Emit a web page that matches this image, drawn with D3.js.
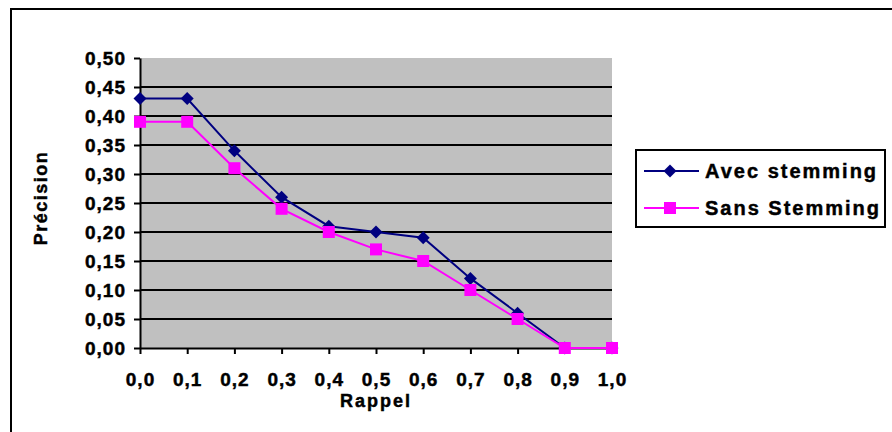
<!DOCTYPE html>
<html lang="fr">
  <head>
    <meta charset="utf-8">
    <title>Précision / Rappel</title>
    <style>
      body {
        margin: 0;
        background: #fff;
      }
      svg {
        display: block;
        font-family: "Liberation Sans", Arial, sans-serif;
        font-weight: bold;
      }
      svg text {
        stroke: #000;
        stroke-width: 0.45px;
      }
      .tick text {
        font-size: 19px;
        letter-spacing: 1px;
        fill: #000;
      }
      .domain, .tick line {
        stroke: #000;
        stroke-width: 2px;
      }
    </style>
  </head>
  <body>
    <script src="https://cdn.jsdelivr.net/npm/d3@7"></script>
    <script>
      // data
      const rappel = [0, 0.1, 0.2, 0.3, 0.4, 0.5, 0.6, 0.7, 0.8, 0.9, 1.0]
      const avecStemming = [0.43, 0.43, 0.34, 0.26, 0.21, 0.20, 0.19, 0.12, 0.06, 0.00, 0.00]
      const sansStemming = [0.39, 0.39, 0.31, 0.24, 0.20, 0.17, 0.15, 0.10, 0.05, 0.00, 0.00]
      const yTicks = [0, 0.05, 0.1, 0.15, 0.2, 0.25, 0.3, 0.35, 0.4, 0.45, 0.5]
      const seriesNames = ["Avec stemming", "Sans Stemming"]

      const w = 892
      const h = 432

      const plotLeft = 140, plotRight = 612, plotTop = 58, plotBottom = 348

      const svg = d3.select("body").append("svg")
        .attr("width", w)
        .attr("height", h)

      // outer chart frame (only top and left edges show)
      svg.append("rect")
        .attr("x", 11)
        .attr("y", 9)
        .attr("width", 1000)
        .attr("height", 1000)
        .attr("fill", "none")
        .attr("stroke", "#000")
        .attr("stroke-width", 2)

      const xScale = d3.scaleLinear().domain([0, 1]).range([plotLeft, plotRight])
      const yScale = d3.scaleLinear().domain([0, 0.5]).range([plotBottom, plotTop])

      const comma = (d, n) => d.toFixed(n).replace(".", ",")

      // plot area
      svg.append("rect")
        .attr("x", plotLeft)
        .attr("y", plotTop)
        .attr("width", plotRight - plotLeft)
        .attr("height", plotBottom - plotTop)
        .attr("fill", "#c0c0c0")

      // gridlines
      svg.append("g")
        .selectAll("line")
        .data(yTicks.filter(d => d > 0 && d < 0.5))
        .enter()
        .append("line")
        .attr("x1", plotLeft)
        .attr("x2", plotRight)
        .attr("y1", d => yScale(d))
        .attr("y2", d => yScale(d))
        .attr("stroke", "#000")
        .attr("stroke-width", 2)

      // axes
      const yAxis = d3.axisLeft(yScale)
        .tickValues(yTicks)
        .tickSize(6)
        .tickSizeOuter(0)
        .tickPadding(8)
        .tickFormat(d => comma(d, 2))

      const xAxis = d3.axisBottom(xScale)
        .tickValues(rappel)
        .tickSize(6)
        .tickSizeOuter(0)
        .tickPadding(19)
        .tickFormat(d => comma(d, 1))

      svg.append("g")
        .attr("transform", `translate(${plotLeft}, 0)`)
        .call(yAxis)
        .call(g => g.selectAll("text").attr("font-family", null).attr("font-size", null))

      svg.append("g")
        .attr("transform", `translate(0, ${plotBottom})`)
        .call(xAxis)
        .call(g => g.selectAll("text").attr("font-family", null).attr("font-size", null))

      // axis titles
      svg.append("text")
        .attr("x", (plotLeft + plotRight) / 2)
        .attr("y", 407)
        .attr("text-anchor", "middle")
        .attr("font-size", "18px")
        .attr("letter-spacing", "2px")
        .text("Rappel")

      svg.append("text")
        .attr("transform", `translate(47, ${(plotTop + plotBottom) / 2 - 5}) rotate(-90)`)
        .attr("text-anchor", "middle")
        .attr("font-size", "18px")
        .attr("letter-spacing", "1.5px")
        .text("Précision")

      // series
      const series = [
        { name: seriesNames[0], values: avecStemming, color: "#000080", shape: "diamond" },
        { name: seriesNames[1], values: sansStemming, color: "#ff00ff", shape: "square" }
      ]

      const line = d3.line()
        .x((d, i) => xScale(rappel[i]))
        .y(d => yScale(d))

      const marker = (sel, s) => {
        if (s.shape === "diamond") {
          sel.append("path")
            .attr("d", d3.symbol(d3.symbolSquare, 84)())
            .attr("transform", "rotate(45)")
            .attr("fill", s.color)
        } else {
          sel.append("path")
            .attr("d", d3.symbol(d3.symbolSquare, 144)())
            .attr("fill", s.color)
        }
      }

      series.forEach(s => {
        svg.append("path")
          .datum(s.values)
          .attr("d", line)
          .attr("fill", "none")
          .attr("stroke", s.color)
          .attr("stroke-width", 2)

        svg.append("g")
          .selectAll("g")
          .data(s.values)
          .enter()
          .append("g")
          .attr("transform", (d, i) => `translate(${xScale(rappel[i])}, ${yScale(d)})`)
          .each(function () { marker(d3.select(this), s) })
      })

      // legend
      const legend = svg.append("g")

      legend.append("rect")
        .attr("x", 636)
        .attr("y", 150)
        .attr("width", 249)
        .attr("height", 77)
        .attr("fill", "#fff")
        .attr("stroke", "#000")
        .attr("stroke-width", 2)

      series.forEach((s, i) => {
        const ly = 171 + i * 37
        legend.append("line")
          .attr("x1", 644)
          .attr("x2", 699)
          .attr("y1", ly)
          .attr("y2", ly)
          .attr("stroke", s.color)
          .attr("stroke-width", 2)
        const mg = legend.append("g").attr("transform", `translate(670, ${ly})`)
        marker(mg, s)
        legend.append("text")
          .attr("x", 705)
          .attr("y", ly + 7)
          .attr("font-size", "20px")
          .attr("letter-spacing", "2px")
          .text(s.name)
      })
    </script>
  </body>
</html>
